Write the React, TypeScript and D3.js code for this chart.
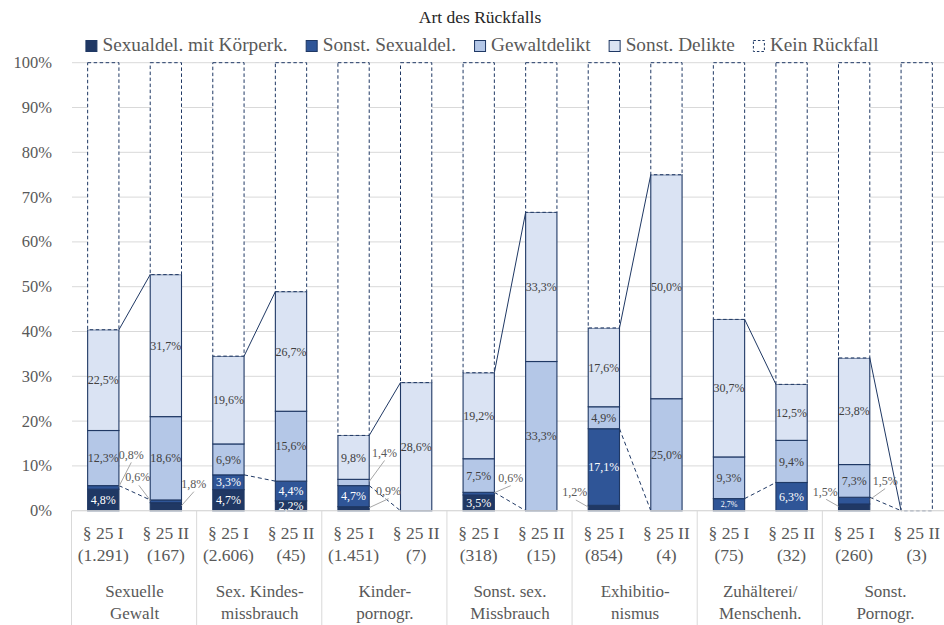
import React from 'react';
import * as d3 from 'd3';

// ---------- DATA ----------
const chartTitle = 'Art des Rückfalls';
const categoryNames: string[][] = [
  ['Sexuelle', 'Gewalt'],
  ['Sex. Kindes-', 'missbrauch'],
  ['Kinder-', 'pornogr.'],
  ['Sonst. sex.', 'Missbrauch'],
  ['Exhibitio-', 'nismus'],
  ['Zuhälterei/', 'Menschenh.'],
  ['Sonst.', 'Pornogr.'],
];
const lawLabels = ['§ 25 I', '§ 25 II', '§ 25 I', '§ 25 II', '§ 25 I', '§ 25 II', '§ 25 I', '§ 25 II', '§ 25 I', '§ 25 II', '§ 25 I', '§ 25 II', '§ 25 I', '§ 25 II'];
const caseCounts = ['(1.291)', '(167)', '(2.606)', '(45)', '(1.451)', '(7)', '(318)', '(15)', '(854)', '(4)', '(75)', '(32)', '(260)', '(3)'];
const seriesNames = ['Sexualdel. mit Körperk.', 'Sonst. Sexualdel.', 'Gewaltdelikt', 'Sonst. Delikte', 'Kein Rückfall'];
const koerperkontakt = [4.8, 1.8, 4.7, 2.2, 0.9, 0, 3.5, 0, 1.2, 0, 0, 0, 1.5, 0];
const sonstSexual = [0.8, 0.6, 3.3, 4.4, 4.7, 0, 0.6, 0, 17.1, 0, 2.7, 6.3, 1.5, 0];
const gewalt = [12.3, 18.6, 6.9, 15.6, 1.4, 0, 7.5, 33.3, 4.9, 25.0, 9.3, 9.4, 7.3, 0];
const sonstDelikte = [22.5, 31.7, 19.6, 26.7, 9.8, 28.6, 19.2, 33.3, 17.6, 50.0, 30.7, 12.5, 23.8, 0];
const keinRueckfall = [59.6, 47.3, 65.5, 51.1, 83.2, 71.4, 69.2, 33.4, 59.2, 25.0, 57.3, 71.8, 65.9, 100];
const yTicks = [0, 10, 20, 30, 40, 50, 60, 70, 80, 90, 100];

// ---------- STYLE / LAYOUT ----------
const W = 944;
const H = 625;
const FONT = '"Liberation Serif", "Times New Roman", serif';
const TEXT = '#595959';
const NAVY = '#1F3864';
const fills = ['#203864', '#2F5597', '#B4C7E7', '#DAE3F3', '#FFFFFF'];
const labelColors = ['#FFFFFF', '#FFFFFF', '#404040', '#404040'];
const keys = ['k', 's', 'g', 'd', 'n'];

// callouts for small segments: [bar, series, dx from bar centre, dy from segment mid]
const callouts: [number, number, number, number][] = [
  [0, 1, 28, -33],
  [1, 1, -28, -24],
  [1, 0, 28, -23],
  [4, 2, 31, -30],
  [4, 0, 35, -18],
  [6, 1, 32, -16],
  [8, 0, -29, -16],
  [12, 0, -29, -16],
  [12, 1, 31, -20],
];
const smallLabels = new Set(['10-1']);

const fmt = (v: number) => v.toFixed(1).replace('.', ',') + '%';

function measure(text: string, size: number) {
  const c = document.createElement('canvas').getContext('2d');
  if (!c) return text.length * size * 0.5;
  c.font = `${size}px ${FONT}`;
  return c.measureText(text).width;
}

const T = (props: any) => <text {...props} style={{ fontFamily: FONT }} />;

export default function App() {
  const x = d3
    .scaleBand<number>()
    .domain(d3.range(lawLabels.length))
    .range([72, 948])
    .paddingInner(0.5)
    .paddingOuter(0.25);
  const y = d3.scaleLinear().domain([0, 100]).range([510.7, 62.7]);
  const bw = x.bandwidth();
  const step = x.step();

  const rows = lawLabels.map((_, i) => ({
    i,
    k: koerperkontakt[i],
    s: sonstSexual[i],
    g: gewalt[i],
    d: sonstDelikte[i],
    n: keinRueckfall[i],
  }));
  const stacked = d3.stack<any>().keys(keys)(rows);

  const cx = (i: number) => (x(i) as number) + bw / 2;
  const catEdge = (c: number) => 72 + c * 2 * step;

  // legend layout
  const legendSize = 19.3;
  const items = seriesNames.map((n) => ({ n, w: measure(n, legendSize) }));
  const total = items.reduce((a, it) => a + 17 + it.w, 0) + 18 * (items.length - 1);
  let lx = 482 - total / 2;
  const legendItems = items.map((it, idx) => {
    const o = { ...it, x: lx, idx };
    lx += 17 + it.w + 18;
    return o;
  });

  const calloutSet = new Set(callouts.map((c) => `${c[0]}-${c[1]}`));

  return (
    <svg
      width={W}
      height={H}
      style={{ position: 'absolute', left: 0, top: 0, background: '#fff', fontFamily: FONT }}
    >
      <rect x={0} y={0} width={W} height={H} fill="#fff" />
      <T x={480} y={23} textAnchor="middle" fontSize={17.5} fill="#262626">
        {chartTitle}
      </T>
      {legendItems.map((it) => (
        <g key={it.n}>
          <rect
            x={it.x + 0.5}
            y={40.5}
            width={11}
            height={11}
            fill={fills[it.idx]}
            stroke={NAVY}
            strokeWidth={1}
            strokeDasharray={it.idx === 4 ? '2.5,2' : undefined}
          />
          <T x={it.x + 17} y={51} fontSize={legendSize} fill={TEXT}>
            {it.n}
          </T>
        </g>
      ))}
      {yTicks.map((t) => (
        <g key={t}>
          <line x1={72} x2={W} y1={y(t)} y2={y(t)} stroke="#D9D9D9" strokeWidth={1} />
          <T x={52} y={y(t) + 5.5} textAnchor="end" fontSize={16.5} fill={TEXT}>
            {t}%
          </T>
        </g>
      ))}
      {stacked.slice(0, 4).map((layer, si) =>
        layer.map((d, i) => {
          const v = d[1] - d[0];
          if (v <= 0) return null;
          return (
            <rect
              key={`${si}-${i}`}
              x={x(i)}
              y={y(d[1])}
              width={bw}
              height={y(d[0]) - y(d[1])}
              fill={fills[si]}
              stroke={NAVY}
              strokeWidth={1.1}
            />
          );
        })
      )}
      {stacked[4].map((d, i) => (
        <rect
          key={`n-${i}`}
          x={x(i)}
          y={y(d[1])}
          width={bw}
          height={y(d[0]) - y(d[1])}
          fill="#fff"
          stroke={NAVY}
          strokeWidth={1}
          strokeDasharray="3.5,2.5"
        />
      ))}
      {d3.range(0, lawLabels.length, 2).map((i) => {
        const x1 = (x(i) as number) + bw;
        const x2 = x(i + 1) as number;
        return (
          <g key={`sl-${i}`}>
            <line
              x1={x1}
              x2={x2}
              y1={y(stacked[1][i][1])}
              y2={y(stacked[1][i + 1][1])}
              stroke={NAVY}
              strokeWidth={1}
              strokeDasharray="4,3"
            />
            <line
              x1={x1}
              x2={x2}
              y1={y(stacked[3][i][1])}
              y2={y(stacked[3][i + 1][1])}
              stroke={NAVY}
              strokeWidth={1}
            />
          </g>
        );
      })}
      {stacked.slice(0, 4).map((layer, si) =>
        layer.map((d, i) => {
          const v = d[1] - d[0];
          if (v <= 0 || calloutSet.has(`${i}-${si}`)) return null;
          const small = smallLabels.has(`${i}-${si}`);
          return (
            <T
              key={`l-${si}-${i}`}
              x={cx(i)}
              y={y((d[0] + d[1]) / 2)}
              dy="0.35em"
              textAnchor="middle"
              fontSize={small ? 8 : 12}
              fill={labelColors[si]}
            >
              {fmt(v)}
            </T>
          );
        })
      )}
      {callouts.map(([i, si, dx, dy]) => {
        const d = stacked[si][i];
        const v = d[1] - d[0];
        const midY = y((d[0] + d[1]) / 2);
        const lxp = cx(i) + dx;
        const lyp = midY + dy;
        const edge = dx > 0 ? (x(i) as number) + bw : (x(i) as number);
        return (
          <g key={`c-${i}-${si}`}>
            <line
              x1={lxp + (dx > 0 ? 0 : 1)}
              y1={lyp + 8}
              x2={edge}
              y2={midY - 1}
              stroke="#A6A6A6"
              strokeWidth={1}
            />
            <T x={lxp} y={lyp} dy="0.35em" textAnchor="middle" fontSize={12} fill={TEXT}>
              {fmt(v)}
            </T>
          </g>
        );
      })}
      <line x1={72} x2={W} y1={y(0)} y2={y(0)} stroke="#D9D9D9" strokeWidth={1} />
      {d3.range(categoryNames.length + 1).map((c) => (
        <line
          key={`sep-${c}`}
          x1={catEdge(c) - 0.5}
          x2={catEdge(c) - 0.5}
          y1={y(0)}
          y2={H}
          stroke="#D9D9D9"
          strokeWidth={1}
        />
      ))}
      {lawLabels.map((l, i) => (
        <g key={`xl-${i}`}>
          <T x={cx(i)} y={539} textAnchor="middle" fontSize={17.5} fill={TEXT}>
            {l}
          </T>
          <T x={cx(i)} y={561} textAnchor="middle" fontSize={17.5} fill={TEXT}>
            {caseCounts[i]}
          </T>
        </g>
      ))}
      {categoryNames.map((lines, c) => (
        <g key={`cat-${c}`}>
          {lines.map((ln, j) => (
            <T
              key={j}
              x={catEdge(c) + step}
              y={597 + j * 21.5}
              textAnchor="middle"
              fontSize={17}
              fill={TEXT}
            >
              {ln}
            </T>
          ))}
        </g>
      ))}
    </svg>
  );
}
